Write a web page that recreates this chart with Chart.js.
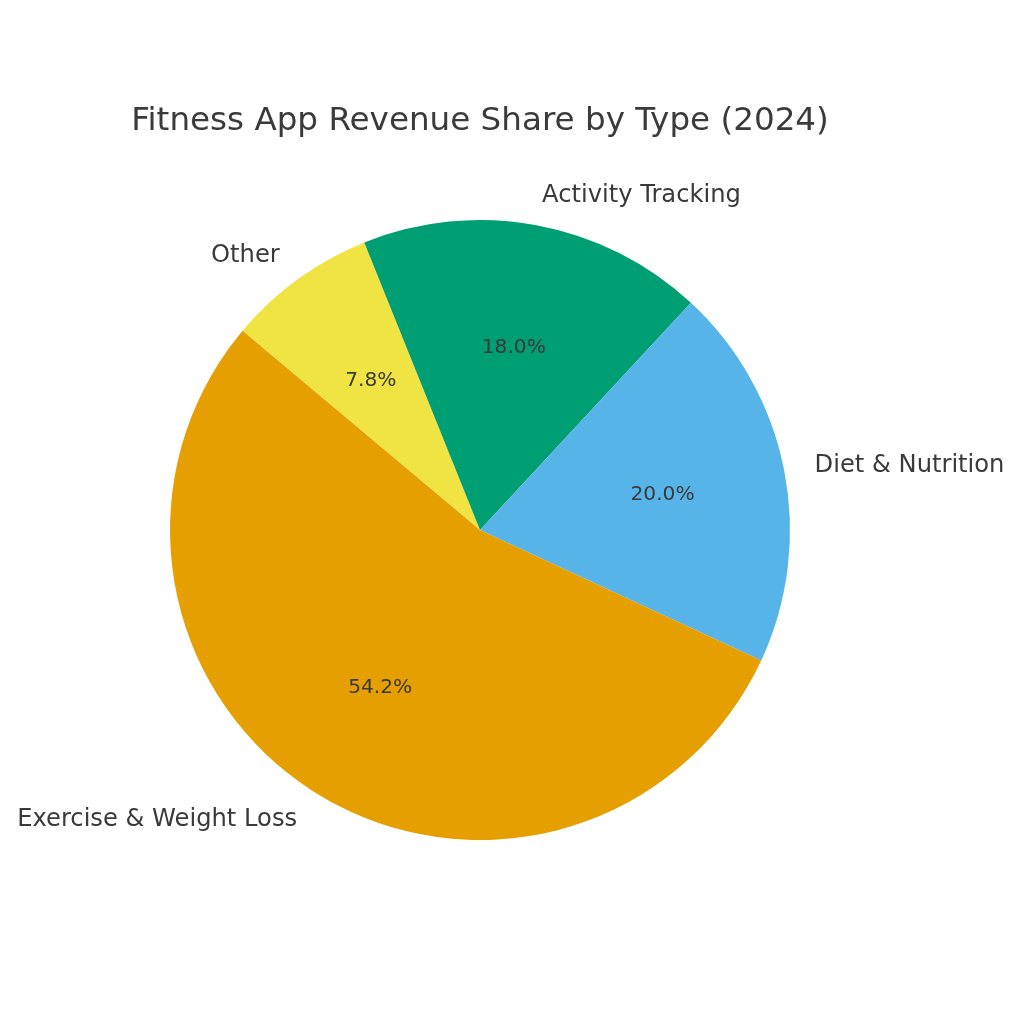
<!DOCTYPE html>
<html lang="en">
<head>
    <meta charset="UTF-8">
    <title>Fitness App Revenue Share by Type (2024)</title>
    <script src="https://cdn.jsdelivr.net/npm/chart.js"></script>
    <style>
        html, body { margin: 0; padding: 0; background: #ffffff; }
        #wrap { width: 1024px; height: 1024px; }
    </style>
</head>
<body>
    <div id="wrap"><canvas id="pieChart" width="1024" height="1024"></canvas></div>
    <script>
        // clockwise order, starting at the upper-left edge of "Other"
        const categories = ['Other', 'Activity Tracking', 'Diet & Nutrition', 'Exercise & Weight Loss'];
        const shares = [7.8, 18.0, 20.0, 54.2];
        const sliceColors = ['#F0E442', '#009E73', '#56B4E9', '#E69F00'];
        const chartTitle = 'Fitness App Revenue Share by Type (2024)';

        const textColor = '#3a3a3a';
        const fontFamily = '"DejaVu Sans", sans-serif';

        // draws the title, the outside labels and the percentages, like matplotlib does
        const sliceLabels = {
            id: 'sliceLabels',
            afterDatasetsDraw(chart) {
                const ctx = chart.ctx;
                const meta = chart.getDatasetMeta(0);
                const total = shares.reduce((a, b) => a + b, 0);
                ctx.save();
                ctx.fillStyle = textColor;
                ctx.textBaseline = 'middle';

                const area = chart.chartArea;
                ctx.font = '32.6px ' + fontFamily;
                ctx.textAlign = 'center';
                ctx.fillText(chartTitle, (area.left + area.right) / 2, area.top - 98);

                meta.data.forEach((arc, i) => {
                    const p = arc.getProps(['x', 'y', 'startAngle', 'endAngle', 'outerRadius'], true);
                    const mid = (p.startAngle + p.endAngle) / 2;
                    const lx = p.x + Math.cos(mid) * p.outerRadius * 1.1;
                    const ly = p.y + Math.sin(mid) * p.outerRadius * 1.1;
                    ctx.font = '24.2px ' + fontFamily;
                    ctx.textAlign = lx >= p.x ? 'left' : 'right';
                    ctx.fillText(categories[i], lx, ly + 1.5);

                    const px = p.x + Math.cos(mid) * p.outerRadius * 0.6;
                    const py = p.y + Math.sin(mid) * p.outerRadius * 0.6;
                    ctx.font = '20.2px ' + fontFamily;
                    ctx.textAlign = 'center';
                    ctx.fillText((shares[i] / total * 100).toFixed(1) + '%', px, py + 1);
                });
                ctx.restore();
            }
        };

        new Chart(document.getElementById('pieChart'), {
            type: 'pie',
            data: {
                labels: categories,
                datasets: [{
                    data: shares,
                    backgroundColor: sliceColors,
                    borderWidth: 0
                }]
            },
            options: {
                responsive: false,
                animation: false,
                rotation: -50,
                layout: {
                    padding: { left: 170, right: 234, top: 220, bottom: 184 }
                },
                plugins: {
                    legend: { display: false },
                    tooltip: { enabled: false },
                    title: { display: false }
                }
            },
            plugins: [sliceLabels]
        });
    </script>
</body>
</html>
